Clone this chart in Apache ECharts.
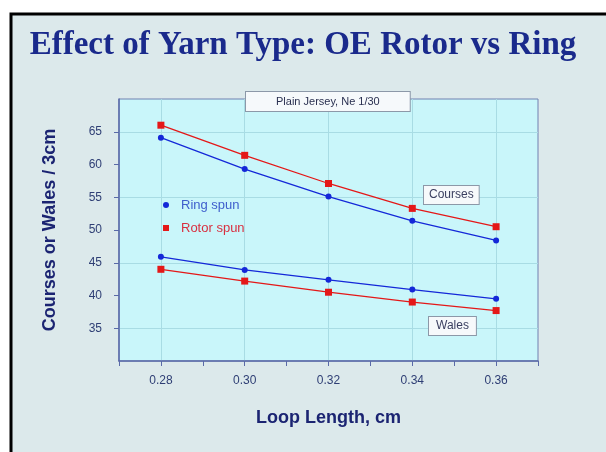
<!DOCTYPE html>
<html>
<head>
<meta charset="utf-8">
<script src="https://cdn.jsdelivr.net/npm/echarts@6/dist/echarts.min.js"></script>
<style>
  html, body { margin: 0; padding: 0; background: #fff; }
  #chart { width: 606px; height: 452px; }
</style>
</head>
<body>
<div id="chart"></div>
<script>
// loop length (cm) on x, courses / wales per 3cm on y
const loopLength = [0.28, 0.30, 0.32, 0.34, 0.36];
const ringCourses = [64.1, 59.3, 55.1, 51.4, 48.4];
const rotorCourses = [66.0, 61.4, 57.1, 53.3, 50.5];
const ringWales = [45.9, 43.9, 42.4, 40.9, 39.5];
const rotorWales = [44.0, 42.2, 40.5, 39.0, 37.7];

const blue = '#1428d8';
const red = '#e41818';
const gridColor = '#a8dce4';
const navy = '#1b2472';
const squareIcon = 'path://M0,0L1,0L1,1L0,1Z';

function pairs(ys) {
  return loopLength.map((x, i) => [x, ys[i]]);
}

function lineSeries(name, ys, color, symbol, size) {
  return {
    name: name,
    type: 'line',
    data: pairs(ys),
    symbol: symbol,
    symbolSize: size,
    lineStyle: { color: color, width: 1.3 },
    itemStyle: { color: color },
    emphasis: { disabled: true },
    z: 3
  };
}

const chart = echarts.init(document.getElementById('chart'), null, { renderer: 'canvas' });

chart.setOption({
  backgroundColor: '#ffffff',
  animation: false,
  title: {
    text: 'Effect of Yarn Type: OE Rotor vs Ring',
    left: 'center',
    top: 24,
    textStyle: {
      fontFamily: 'Liberation Serif',
      fontWeight: 'bold',
      fontSize: 33,
      color: '#1a2a8c'
    }
  },
  legend: {
    orient: 'vertical',
    left: 158,
    top: 192,
    itemWidth: 20,
    itemHeight: 6,
    itemGap: 7,
    symbolKeepAspect: true,
    selectedMode: false,
    data: [
      { name: 'Ring spun', icon: 'circle', textStyle: { color: '#3f5fcc' } },
      { name: 'Rotor spun', icon: squareIcon, textStyle: { color: '#d83040' } }
    ],
    textStyle: { fontFamily: 'Liberation Sans', fontSize: 13, lineHeight: 16 }
  },
  grid: {
    left: 119,
    top: 99,
    right: 68,
    bottom: 91,
    show: true,
    backgroundColor: '#c9f6fa',
    borderColor: '#7080b0',
    borderWidth: 1
  },
  xAxis: {
    type: 'value',
    min: 0.27,
    max: 0.37,
    interval: 0.01,
    name: 'Loop Length, cm',
    nameLocation: 'middle',
    nameGap: 48,
    nameTextStyle: { fontFamily: 'Liberation Sans', fontWeight: 'bold', fontSize: 18, color: navy },
    axisLine: { lineStyle: { color: '#5a6aa8', width: 1.5 } },
    axisTick: { show: true, length: 5, lineStyle: { color: '#5a6aa8' } },
    axisLabel: {
      margin: 14,
      fontFamily: 'Liberation Sans',
      fontSize: 12,
      color: '#2e3e74',
      formatter: function (v) {
        const n = Math.round(v * 100);
        return (n % 2 === 0 && n >= 28 && n <= 36) ? v.toFixed(2) : '';
      }
    },
    splitLine: {
      show: true,
      showMinLine: false,
      showMaxLine: false,
      lineStyle: { color: [gridColor, 'rgba(0,0,0,0)'], width: 1 }
    }
  },
  yAxis: {
    type: 'value',
    min: 30,
    max: 70,
    interval: 5,
    name: 'Courses or Wales / 3cm',
    nameLocation: 'middle',
    nameGap: 60,
    nameTextStyle: { fontFamily: 'Liberation Sans', fontWeight: 'bold', fontSize: 18, color: navy },
    axisLine: { show: true, lineStyle: { color: '#5a6aa8', width: 1.5 } },
    axisTick: { show: true, length: 5, lineStyle: { color: '#5a6aa8' } },
    axisLabel: {
      margin: 17,
      fontFamily: 'Liberation Sans',
      fontSize: 12,
      color: '#2e3e74',
      showMinLabel: false,
      showMaxLabel: false,
      formatter: function (v) { return (v > 30 && v < 70) ? String(v) : ''; }
    },
    splitLine: {
      show: true,
      showMinLine: false,
      showMaxLine: false,
      lineStyle: { color: [gridColor, 'rgba(0,0,0,0)'], width: 1 }
    }
  },
  graphic: [
    {
      type: 'rect',
      z: -10,
      silent: true,
      shape: { x: 11, y: 14, width: 610, height: 450 },
      style: { fill: '#dce9eb', stroke: '#000', lineWidth: 3 }
    },
    {
      type: 'text',
      z: 10,
      left: 245,
      top: 91,
      style: {
        text: 'Plain Jersey, Ne 1/30',
        fontFamily: 'Liberation Sans',
        fontSize: 11,
        fill: '#2a3050',
        backgroundColor: '#f6f9fb',
        borderColor: '#8c98a8',
        borderWidth: 1,
        padding: [4, 30, 4, 30]
      }
    },
    {
      type: 'text',
      z: 10,
      left: 423,
      top: 185,
      style: {
        text: 'Courses',
        fontFamily: 'Liberation Sans',
        fontSize: 12,
        fill: '#3a3f60',
        backgroundColor: '#f6f9fb',
        borderColor: '#8c98a8',
        borderWidth: 1,
        padding: [3, 5, 3, 5]
      }
    },
    {
      type: 'text',
      z: 10,
      left: 428,
      top: 316,
      style: {
        text: 'Wales',
        fontFamily: 'Liberation Sans',
        fontSize: 12,
        fill: '#3a3f60',
        backgroundColor: '#f6f9fb',
        borderColor: '#8c98a8',
        borderWidth: 1,
        padding: [3, 7, 3, 7]
      }
    }
  ],
  series: [
    lineSeries('Ring spun', ringCourses, blue, 'circle', 6),
    lineSeries('Rotor spun', rotorCourses, red, 'rect', 7),
    lineSeries('Ring spun', ringWales, blue, 'circle', 6),
    lineSeries('Rotor spun', rotorWales, red, 'rect', 7)
  ]
});
</script>
</body>
</html>
